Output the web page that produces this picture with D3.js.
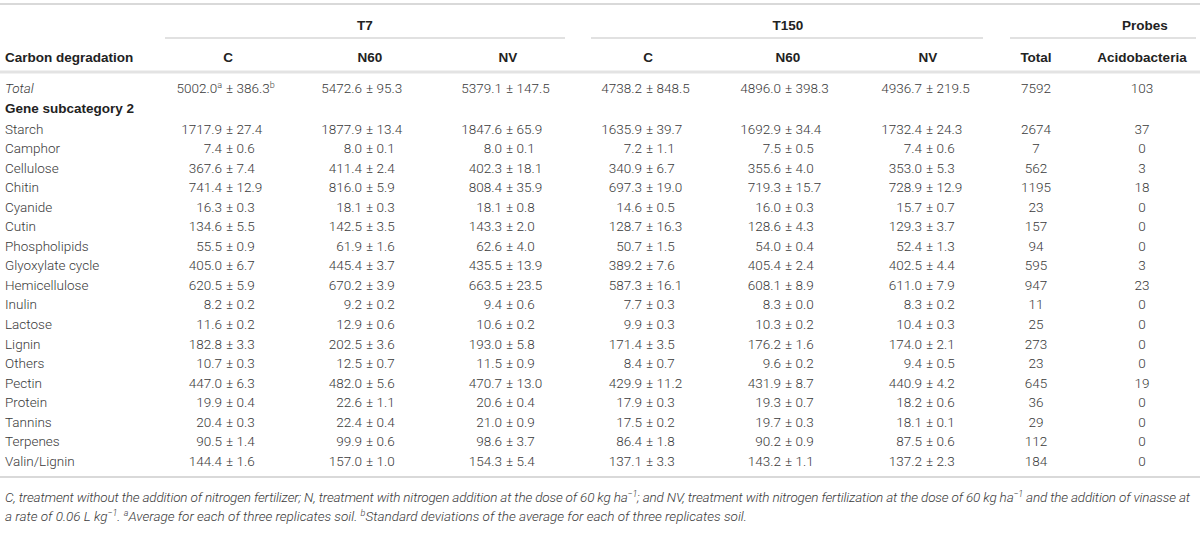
<!DOCTYPE html>
<html lang="en">
<head>
    <meta charset="UTF-8">
    <title>Carbon degradation table</title>
    <script src="https://d3js.org/d3.v7.min.js"></script>
    <style>
        body { margin: 0; background: #fff; }
        svg { display: block; font-family: "Liberation Sans", Arial, sans-serif; }
        .cell { font-family: Roboto, "Liberation Sans", sans-serif; font-weight: 300; font-size: 13.5px; fill: #3a3a3a; }
        .head { font-size: 13.5px; font-weight: bold; fill: #222; }
        .note { font-family: Roboto, "Liberation Sans", sans-serif; font-weight: 300; font-size: 13.5px; font-style: italic; fill: #3a3a3a; }
    </style>
</head>
<body>
    <svg width="1200" height="542"></svg>
    <script>
        // Tabellenwerte
        var subcategories = ["Starch", "Camphor", "Cellulose", "Chitin", "Cyanide", "Cutin", "Phospholipids",
            "Glyoxylate cycle", "Hemicellulose", "Inulin", "Lactose", "Lignin", "Others", "Pectin",
            "Protein", "Tannins", "Terpenes", "Valin/Lignin"];
        var groups = ["T7", "T150"];
        var treatments = ["C", "N60", "NV"];

        var t7C_mean = [1717.9, 7.4, 367.6, 741.4, 16.3, 134.6, 55.5, 405.0, 620.5, 8.2, 11.6, 182.8, 10.7, 447.0, 19.9, 20.4, 90.5, 144.4];
        var t7C_sd = [27.4, 0.6, 7.4, 12.9, 0.3, 5.5, 0.9, 6.7, 5.9, 0.2, 0.2, 3.3, 0.3, 6.3, 0.4, 0.3, 1.4, 1.6];
        var t7N60_mean = [1877.9, 8.0, 411.4, 816.0, 18.1, 142.5, 61.9, 445.4, 670.2, 9.2, 12.9, 202.5, 12.5, 482.0, 22.6, 22.4, 99.9, 157.0];
        var t7N60_sd = [13.4, 0.1, 2.4, 5.9, 0.3, 3.5, 1.6, 3.7, 3.9, 0.2, 0.6, 3.6, 0.7, 5.6, 1.1, 0.4, 0.6, 1.0];
        var t7NV_mean = [1847.6, 8.0, 402.3, 808.4, 18.1, 143.3, 62.6, 435.5, 663.5, 9.4, 10.6, 193.0, 11.5, 470.7, 20.6, 21.0, 98.6, 154.3];
        var t7NV_sd = [65.9, 0.1, 18.1, 35.9, 0.8, 2.0, 4.0, 13.9, 23.5, 0.6, 0.2, 5.8, 0.9, 13.0, 0.4, 0.9, 3.7, 5.4];
        var t150C_mean = [1635.9, 7.2, 340.9, 697.3, 14.6, 128.7, 50.7, 389.2, 587.3, 7.7, 9.9, 171.4, 8.4, 429.9, 17.9, 17.5, 86.4, 137.1];
        var t150C_sd = [39.7, 1.1, 6.7, 19.0, 0.5, 16.3, 1.5, 7.6, 16.1, 0.3, 0.3, 3.5, 0.7, 11.2, 0.3, 0.2, 1.8, 3.3];
        var t150N60_mean = [1692.9, 7.5, 355.6, 719.3, 16.0, 128.6, 54.0, 405.4, 608.1, 8.3, 10.3, 176.2, 9.6, 431.9, 19.3, 19.7, 90.2, 143.2];
        var t150N60_sd = [34.4, 0.5, 4.0, 15.7, 0.3, 4.3, 0.4, 2.4, 8.9, 0.0, 0.2, 1.6, 0.2, 8.7, 0.7, 0.3, 0.9, 1.1];
        var t150NV_mean = [1732.4, 7.4, 353.0, 728.9, 15.7, 129.3, 52.4, 402.5, 611.0, 8.3, 10.4, 174.0, 9.4, 440.9, 18.2, 18.1, 87.5, 137.2];
        var t150NV_sd = [24.3, 0.6, 5.3, 12.9, 0.7, 3.7, 1.3, 4.4, 7.9, 0.2, 0.3, 2.1, 0.5, 4.2, 0.6, 0.1, 0.6, 2.3];
        var probesTotal = [2674, 7, 562, 1195, 23, 157, 94, 595, 947, 11, 25, 273, 23, 645, 36, 29, 112, 184];
        var probesAcido = [37, 0, 3, 18, 0, 0, 0, 3, 23, 0, 0, 0, 0, 19, 0, 0, 0, 0];

        // Zeile "Total"
        var totalMean = [5002.0, 5472.6, 5379.1, 4738.2, 4896.0, 4936.7];
        var totalSd = [386.3, 95.3, 147.5, 848.5, 398.3, 219.5];
        var totalProbes = 7592, totalAcido = 103;

        var means = [t7C_mean, t7N60_mean, t7NV_mean, t150C_mean, t150N60_mean, t150NV_mean];
        var sds = [t7C_sd, t7N60_sd, t7NV_sd, t150C_sd, t150N60_sd, t150NV_sd];

        var svg = d3.select('svg');
        var W = 1200;

        // Spalten (Position des ±-Zeichens bzw. Mitte)
        var colKeys = ["T7C", "T7N60", "T7NV", "T150C", "T150N60", "T150NV", "Total", "Acido"];
        var xCol = d3.scaleOrdinal().domain(colKeys).range([230, 370, 510, 650, 789, 930, 1036, 1142]);
        var xHead = d3.scaleOrdinal().domain(colKeys).range([228, 370, 508, 648, 788, 928, 1036, 1142]);

        // Zeilen
        var yRow = d3.scalePoint().domain(subcategories).range([129, 461]);

        function hline(x1, x2, y, w, c) {
            svg.append('line').attr('x1', x1).attr('x2', x2).attr('y1', y).attr('y2', y)
                .attr('stroke', c).attr('stroke-width', w);
        }
        hline(0, W, 4, 2, '#d9d9d9');
        hline(165, 565, 38, 1.2, '#c4c4c4');
        hline(591, 983, 38, 1.2, '#c4c4c4');
        hline(1010, 1196, 38, 1.2, '#c4c4c4');
        hline(0, W, 72, 3, '#e3e3e3');
        hline(0, W, 477, 2, '#d9d9d9');

        // Kopfzeilen
        svg.append('text').attr('class', 'head').attr('x', 365).attr('y', 25).attr('dy', '0.35em')
            .attr('text-anchor', 'middle').text(groups[0]);
        svg.append('text').attr('class', 'head').attr('x', 788).attr('y', 25).attr('dy', '0.35em')
            .attr('text-anchor', 'middle').text(groups[1]);
        svg.append('text').attr('class', 'head').attr('x', 1145).attr('y', 25).attr('dy', '0.35em')
            .attr('text-anchor', 'middle').text('Probes');
        svg.append('text').attr('class', 'head').attr('x', 5).attr('y', 57).attr('dy', '0.35em')
            .text('Carbon degradation');
        var headLabels = treatments.concat(treatments).concat(["Total", "Acidobacteria"]);
        svg.selectAll('.colhead').data(colKeys).enter().append('text')
            .attr('class', 'head colhead')
            .attr('x', function(d) { return xHead(d); })
            .attr('y', 57).attr('dy', '0.35em').attr('text-anchor', 'middle')
            .text(function(d, i) { return headLabels[i]; });

        // Mittelwert ± SD, am ±-Zeichen ausgerichtet
        function meanSd(y, i, m, s, sup) {
            var x = xCol(colKeys[i]);
            var l = svg.append('text').attr('class', 'cell').attr('x', x - 8).attr('y', y)
                .attr('dy', '0.35em').attr('text-anchor', 'end');
            l.append('tspan').text(m.toFixed(1));
            if (sup) l.append('tspan').attr('font-size', 9).attr('dy', -4.5).text('a');
            var r = svg.append('text').attr('class', 'cell').attr('x', x - 4).attr('y', y)
                .attr('dy', '0.35em');
            r.append('tspan').text('\u00b1 ' + s.toFixed(1));
            if (sup) r.append('tspan').attr('font-size', 9).attr('dy', -4.5).text('b');
        }

        // Zeile Total
        svg.append('text').attr('class', 'cell').attr('x', 5).attr('y', 88).attr('dy', '0.35em')
            .attr('font-style', 'italic').text('Total');
        totalMean.forEach(function(m, i) { meanSd(88, i, m, totalSd[i], i === 0); });
        svg.append('text').attr('class', 'cell').attr('x', xCol("Total")).attr('y', 88).attr('dy', '0.35em')
            .attr('text-anchor', 'middle').text(totalProbes);
        svg.append('text').attr('class', 'cell').attr('x', xCol("Acido")).attr('y', 88).attr('dy', '0.35em')
            .attr('text-anchor', 'middle').text(totalAcido);

        svg.append('text').attr('class', 'head').attr('x', 5).attr('y', 108).attr('dy', '0.35em')
            .text('Gene subcategory 2');

        // Datenzeilen
        subcategories.forEach(function(name, r) {
            var y = yRow(name);
            svg.append('text').attr('class', 'cell').attr('x', 5).attr('y', y).attr('dy', '0.35em').text(name);
            means.forEach(function(col, i) { meanSd(y, i, col[r], sds[i][r], false); });
            svg.append('text').attr('class', 'cell').attr('x', xCol("Total")).attr('y', y).attr('dy', '0.35em')
                .attr('text-anchor', 'middle').text(probesTotal[r]);
            svg.append('text').attr('class', 'cell').attr('x', xCol("Acido")).attr('y', y).attr('dy', '0.35em')
                .attr('text-anchor', 'middle').text(probesAcido[r]);
        });

        // Fußnote
        var n1 = svg.append('text').attr('class', 'note').attr('x', 5).attr('y', 497).attr('dy', '0.35em')
            .attr('textLength', 1185).attr('lengthAdjust', 'spacing');
        n1.append('tspan').text('C, treatment without the addition of nitrogen fertilizer; N, treatment with nitrogen addition at the dose of 60 kg ha');
        n1.append('tspan').attr('font-size', 9).attr('dy', -4.5).text('\u22121');
        n1.append('tspan').attr('dy', 4.5).text('; and NV, treatment with nitrogen fertilization at the dose of 60 kg ha');
        n1.append('tspan').attr('font-size', 9).attr('dy', -4.5).text('\u22121');
        n1.append('tspan').attr('dy', 4.5).text(' and the addition of vinasse at');

        var n2 = svg.append('text').attr('class', 'note').attr('x', 5).attr('y', 516).attr('dy', '0.35em');
        n2.append('tspan').text('a rate of 0.06 L kg');
        n2.append('tspan').attr('font-size', 9).attr('dy', -4.5).text('\u22121');
        n2.append('tspan').attr('dy', 4.5).text('. ');
        n2.append('tspan').attr('font-size', 9).attr('dy', -4.5).text('a');
        n2.append('tspan').attr('dy', 4.5).text('Average for each of three replicates soil. ');
        n2.append('tspan').attr('font-size', 9).attr('dy', -4.5).text('b');
        n2.append('tspan').attr('dy', 4.5).text('Standard deviations of the average for each of three replicates soil.');
    </script>
</body>
</html>
